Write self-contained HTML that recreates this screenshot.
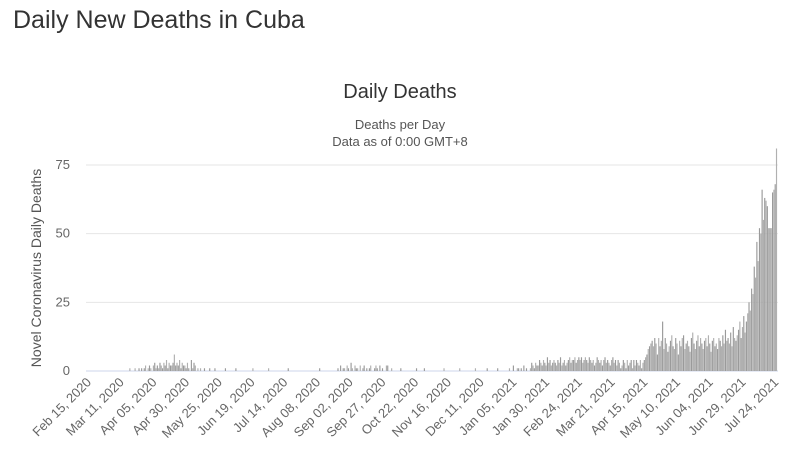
<!DOCTYPE html>
<html><head><meta charset="utf-8"><style>
body{margin:0;background:#fff;width:795px;height:459px;overflow:hidden;font-family:"Liberation Sans",sans-serif}
h1{position:absolute;left:13px;top:6px;margin:0;font-weight:normal;font-size:25px;color:#333}
</style></head><body>
<h1>Daily New Deaths in Cuba</h1>
<svg id="chart" width="795" height="459" style="position:absolute;left:0;top:0">
<text x="400" y="98" text-anchor="middle" font-size="20" fill="#333">Daily Deaths</text>
<text x="400" y="129" text-anchor="middle" font-size="13" fill="#555">Deaths per Day</text>
<text x="400" y="146" text-anchor="middle" font-size="13" fill="#555">Data as of 0:00 GMT+8</text>
<text transform="translate(41,268) rotate(-90)" text-anchor="middle" font-size="14" fill="#555">Novel Coronavirus Daily Deaths</text>
<g id="grid"></g><g id="bars"></g><g id="xlabels"></g>
</svg>
<script>
const startDate = [2020, 2, 15];
const yTicks = [0, 25, 50, 75];
const labelEvery = 25;
const dailyDeaths = [
0,0,0,0,0,0,0,0,0,0,0,0,0,0,0,0,0,0,0,0,0,0,0,0,0,0,0,0,0,0,0,0,
1,0,0,
0,1,0,0,1,0,1,0,1,2,0,1,2,1,0,2,3,1,2,1,3,2,1,3,2,4,1,3,2,2,3,6,2,3,2,4,1,3,2,2,1,3,1,0,4,1,3,2,0,1,0,1,0,0,1,0,
0,0,1,0,0,0,1,0,0,0,0,0,0,0,1,0,0,0,0,0,0,0,1,0,0,0,0,0,0,0,0,0,0,0,0,1,0,0,0,0,0,0,0,0,0,0,0,1,0,0,
0,0,0,0,0,0,0,0,0,0,0,0,1,0,0,0,0,0,0,0,0,0,0,0,0,0,0,0,0,0,0,0,0,0,0,0,1,0,0,0,0,0,0,0,0,0,0,0,0,0,
1,0,2,0,1,1,0,2,1,0,3,1,0,2,1,1,0,2,0,1,2,0,1,0,1,2,0,0,1,2,1,0,2,0,1,0,0,2,2,0,0,1,0,0,0,
0,0,0,1,0,0,0,0,0,0,0,0,0,0,0,1,0,0,0,0,0,1,0,0,0,0,0,0,0,0,0,0,0,0,0,0,1,0,0,0,0,0,0,0,0,0,0,0,1,0,
0,0,0,0,0,0,0,0,0,0,1,0,0,0,0,0,0,0,0,1,0,0,0,0,0,0,0,1,0,0,0,0,0,0,0,
0,1,0,0,2,0,0,1,1,0,1,0,2,0,1,0,0,1,3,2,1,3,2,2,4,
3,2,4,3,2,5,3,4,2,3,4,3,2,4,3,5,2,3,4,2,3,4,5,3,4,4,5,3,4,5,4,5,3,4,5,4,3,5,4,3,4,2,3,5,4,3,4,2,4,5,3,4,3,2,4,5,3,4,2,4,3,1,2,4,3,1,4,2,3,4,1,4,2,4,3,
2,4,1,3,4,5,6,8,9,10,11,9,12,10,6,12,9,11,18,8,
12,10,7,9,11,13,9,8,12,10,6,11,9,12,13,8,10,11,9,7,12,14,10,8,11,13,9,12,10,8,11,12,9,13,10,7,11,12,9,10,8,12,11,9,13,10,15,11,12,10,14,9,16,12,11,13,15,18,12,16,
20,14,18,21,25,22,30,28,38,34,47,40,52,50,66,55,63,62,60,52,52,52,65,66,68,81
];
const NS="http://www.w3.org/2000/svg";
const x0=88, dx=1.309, y0=371, yPer=2.747;
const xScale=i=>x0+i*dx, yScale=v=>y0-v*yPer;
const months=["Jan","Feb","Mar","Apr","May","Jun","Jul","Aug","Sep","Oct","Nov","Dec"];
const grid=document.getElementById('grid'), bars=document.getElementById('bars'), xl=document.getElementById('xlabels');
yTicks.forEach(t=>{
  const y=yScale(t);
  const l=document.createElementNS(NS,'line');
  
  
  l.setAttribute('x1',86);l.setAttribute('x2',778);l.setAttribute('y1',y);l.setAttribute('y2',y);
  l.setAttribute('stroke',t===0?'#ccd6eb':'#e6e6e6');
  grid.appendChild(l);
  const tx=document.createElementNS(NS,'text');
  
  
  tx.setAttribute('x',70);tx.setAttribute('y',y+4);tx.setAttribute('text-anchor','end');
  tx.setAttribute('font-size','13');tx.setAttribute('fill','#666');
  tx.textContent=t;grid.appendChild(tx);
});
dailyDeaths.forEach((v,i)=>{
  if(v<=0)return;
  const r=document.createElementNS(NS,'rect');
  
  
  r.setAttribute('x',xScale(i)-0.6);r.setAttribute('width',1.15);
  r.setAttribute('y',yScale(v));r.setAttribute('height',v*yPer);
  r.setAttribute('fill',i%2?'#9a9a9a':'#b0b0b0');
  bars.appendChild(r);
});
for(let i=0;i<dailyDeaths.length;i+=labelEvery){
  const d=new Date(startDate[0],startDate[1]-1,startDate[2]+i);
  const s=months[d.getMonth()]+' '+String(d.getDate()).padStart(2,'0')+', '+d.getFullYear();
  const x=xScale(i);
  const t=document.createElementNS(NS,'text');
  
  
  t.setAttribute('transform','translate('+(x+4)+',383) rotate(-45)');
  t.setAttribute('text-anchor','end');t.setAttribute('font-size','13');t.setAttribute('fill','#666');
  t.textContent=s;xl.appendChild(t);
}
</script>
</body></html>
